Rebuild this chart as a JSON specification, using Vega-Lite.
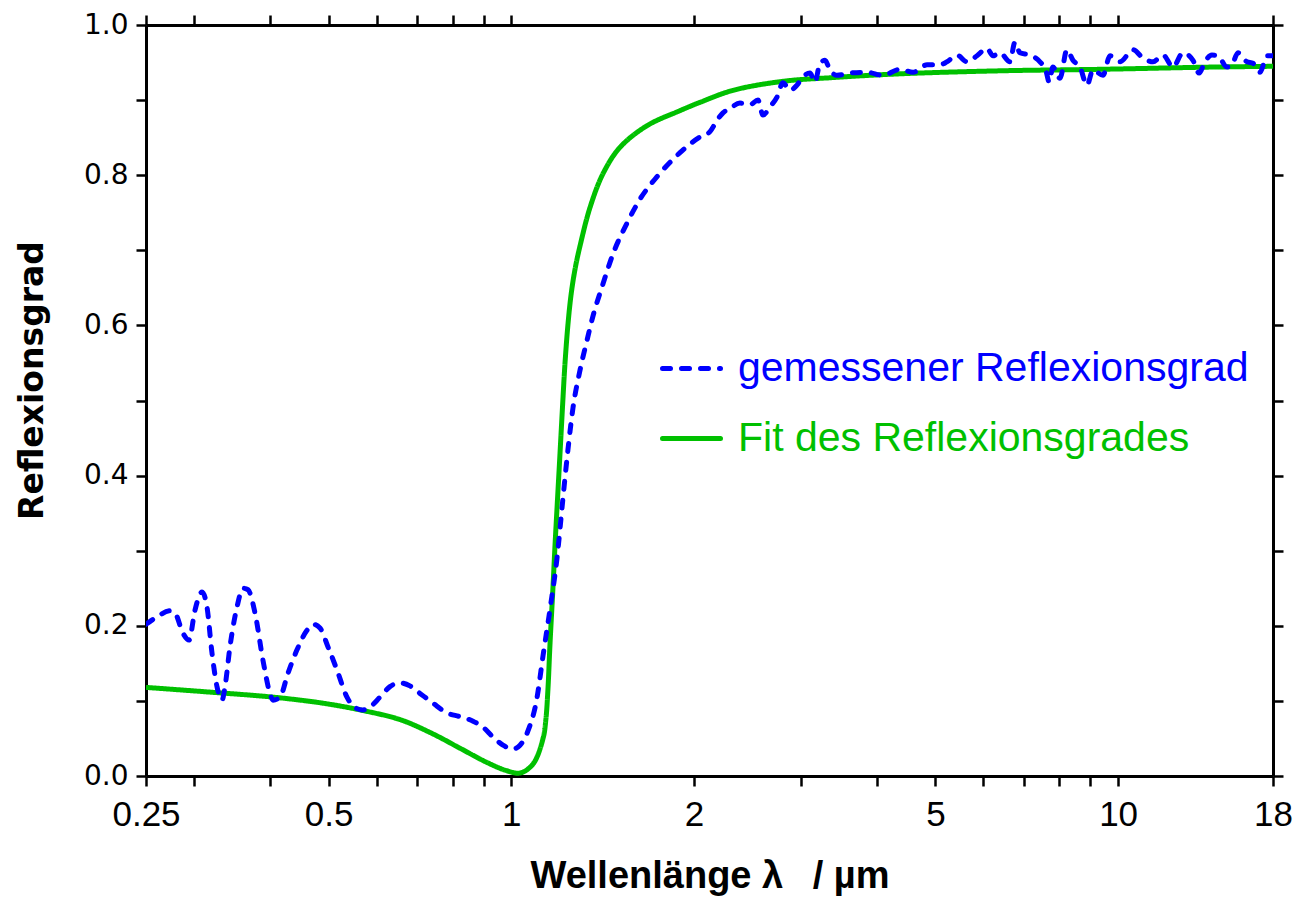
{
  "$schema": "https://vega.github.io/schema/vega-lite/v6.json",
  "width": 1127,
  "height": 751,
  "autosize": {"type": "none"},
  "padding": {"left": 146, "top": 25, "right": 23, "bottom": 125},
  "background": "white",
  "config": {
    "view": {"stroke": null},
    "axis": {
      "grid": false,
      "domainColor": "black",
      "domainWidth": 3,
      "tickColor": "black",
      "tickWidth": 2.5,
      "tickSize": 10,
      "labelColor": "black",
      "titleColor": "black"
    },
    "legend": {"padding": 0}
  },
  "datasets": {
    "fit": [
      {"series": "Fit des Reflexionsgrades", "wl": 0.25, "R": 0.118},
      {"series": "Fit des Reflexionsgrades", "wl": 0.315, "R": 0.112},
      {"series": "Fit des Reflexionsgrades", "wl": 0.405, "R": 0.105},
      {"series": "Fit des Reflexionsgrades", "wl": 0.489, "R": 0.097},
      {"series": "Fit des Reflexionsgrades", "wl": 0.563, "R": 0.088},
      {"series": "Fit des Reflexionsgrades", "wl": 0.656, "R": 0.075},
      {"series": "Fit des Reflexionsgrades", "wl": 0.743, "R": 0.056},
      {"series": "Fit des Reflexionsgrades", "wl": 0.823, "R": 0.037},
      {"series": "Fit des Reflexionsgrades", "wl": 0.912, "R": 0.018},
      {"series": "Fit des Reflexionsgrades", "wl": 0.983, "R": 0.007},
      {"series": "Fit des Reflexionsgrades", "wl": 1.034, "R": 0.004},
      {"series": "Fit des Reflexionsgrades", "wl": 1.086, "R": 0.016},
      {"series": "Fit des Reflexionsgrades", "wl": 1.128, "R": 0.05},
      {"series": "Fit des Reflexionsgrades", "wl": 1.14, "R": 0.075},
      {"series": "Fit des Reflexionsgrades", "wl": 1.149, "R": 0.115},
      {"series": "Fit des Reflexionsgrades", "wl": 1.158, "R": 0.175},
      {"series": "Fit des Reflexionsgrades", "wl": 1.171, "R": 0.25},
      {"series": "Fit des Reflexionsgrades", "wl": 1.18, "R": 0.305},
      {"series": "Fit des Reflexionsgrades", "wl": 1.19, "R": 0.36},
      {"series": "Fit des Reflexionsgrades", "wl": 1.203, "R": 0.43},
      {"series": "Fit des Reflexionsgrades", "wl": 1.216, "R": 0.5},
      {"series": "Fit des Reflexionsgrades", "wl": 1.226, "R": 0.55},
      {"series": "Fit des Reflexionsgrades", "wl": 1.24, "R": 0.602},
      {"series": "Fit des Reflexionsgrades", "wl": 1.255, "R": 0.642},
      {"series": "Fit des Reflexionsgrades", "wl": 1.275, "R": 0.677},
      {"series": "Fit des Reflexionsgrades", "wl": 1.298, "R": 0.706},
      {"series": "Fit des Reflexionsgrades", "wl": 1.348, "R": 0.757},
      {"series": "Fit des Reflexionsgrades", "wl": 1.416, "R": 0.802},
      {"series": "Fit des Reflexionsgrades", "wl": 1.51, "R": 0.837},
      {"series": "Fit des Reflexionsgrades", "wl": 1.674, "R": 0.866},
      {"series": "Fit des Reflexionsgrades", "wl": 1.897, "R": 0.886},
      {"series": "Fit des Reflexionsgrades", "wl": 2.046, "R": 0.897},
      {"series": "Fit des Reflexionsgrades", "wl": 2.319, "R": 0.913},
      {"series": "Fit des Reflexionsgrades", "wl": 2.803, "R": 0.925},
      {"series": "Fit des Reflexionsgrades", "wl": 3.39, "R": 0.93},
      {"series": "Fit des Reflexionsgrades", "wl": 4.37, "R": 0.935},
      {"series": "Fit des Reflexionsgrades", "wl": 6.39, "R": 0.939},
      {"series": "Fit des Reflexionsgrades", "wl": 9.34, "R": 0.941},
      {"series": "Fit des Reflexionsgrades", "wl": 14.33, "R": 0.944},
      {"series": "Fit des Reflexionsgrades", "wl": 18.0, "R": 0.945}
    ],
    "meas": [
      {"series": "gemessener Reflexionsgrad", "wl": 0.25, "R": 0.202},
      {"series": "gemessener Reflexionsgrad", "wl": 0.2607, "R": 0.212},
      {"series": "gemessener Reflexionsgrad", "wl": 0.2738, "R": 0.22},
      {"series": "gemessener Reflexionsgrad", "wl": 0.2791, "R": 0.217},
      {"series": "gemessener Reflexionsgrad", "wl": 0.2877, "R": 0.19},
      {"series": "gemessener Reflexionsgrad", "wl": 0.2943, "R": 0.181},
      {"series": "gemessener Reflexionsgrad", "wl": 0.3011, "R": 0.221},
      {"series": "gemessener Reflexionsgrad", "wl": 0.3092, "R": 0.245},
      {"series": "gemessener Reflexionsgrad", "wl": 0.3151, "R": 0.225},
      {"series": "gemessener Reflexionsgrad", "wl": 0.3211, "R": 0.164},
      {"series": "gemessener Reflexionsgrad", "wl": 0.3273, "R": 0.119},
      {"series": "gemessener Reflexionsgrad", "wl": 0.3336, "R": 0.101},
      {"series": "gemessener Reflexionsgrad", "wl": 0.3374, "R": 0.119},
      {"series": "gemessener Reflexionsgrad", "wl": 0.3438, "R": 0.172},
      {"series": "gemessener Reflexionsgrad", "wl": 0.3531, "R": 0.225},
      {"series": "gemessener Reflexionsgrad", "wl": 0.3613, "R": 0.25},
      {"series": "gemessener Reflexionsgrad", "wl": 0.3682, "R": 0.248},
      {"series": "gemessener Reflexionsgrad", "wl": 0.3781, "R": 0.217},
      {"series": "gemessener Reflexionsgrad", "wl": 0.3897, "R": 0.154},
      {"series": "gemessener Reflexionsgrad", "wl": 0.4002, "R": 0.11},
      {"series": "gemessener Reflexionsgrad", "wl": 0.4048, "R": 0.101},
      {"series": "gemessener Reflexionsgrad", "wl": 0.4157, "R": 0.105},
      {"series": "gemessener Reflexionsgrad", "wl": 0.4285, "R": 0.137},
      {"series": "gemessener Reflexionsgrad", "wl": 0.4434, "R": 0.168},
      {"series": "gemessener Reflexionsgrad", "wl": 0.4605, "R": 0.194},
      {"series": "gemessener Reflexionsgrad", "wl": 0.4712, "R": 0.202},
      {"series": "gemessener Reflexionsgrad", "wl": 0.4838, "R": 0.197},
      {"series": "gemessener Reflexionsgrad", "wl": 0.4987, "R": 0.172},
      {"series": "gemessener Reflexionsgrad", "wl": 0.5161, "R": 0.141},
      {"series": "gemessener Reflexionsgrad", "wl": 0.536, "R": 0.105},
      {"series": "gemessener Reflexionsgrad", "wl": 0.5526, "R": 0.091},
      {"series": "gemessener Reflexionsgrad", "wl": 0.5696, "R": 0.088},
      {"series": "gemessener Reflexionsgrad", "wl": 0.5849, "R": 0.092},
      {"series": "gemessener Reflexionsgrad", "wl": 0.6075, "R": 0.105},
      {"series": "gemessener Reflexionsgrad", "wl": 0.6309, "R": 0.119},
      {"series": "gemessener Reflexionsgrad", "wl": 0.6553, "R": 0.124},
      {"series": "gemessener Reflexionsgrad", "wl": 0.6807, "R": 0.12},
      {"series": "gemessener Reflexionsgrad", "wl": 0.707, "R": 0.11},
      {"series": "gemessener Reflexionsgrad", "wl": 0.7429, "R": 0.097},
      {"series": "gemessener Reflexionsgrad", "wl": 0.7834, "R": 0.084},
      {"series": "gemessener Reflexionsgrad", "wl": 0.8231, "R": 0.079},
      {"series": "gemessener Reflexionsgrad", "wl": 0.8648, "R": 0.073},
      {"series": "gemessener Reflexionsgrad", "wl": 0.8982, "R": 0.065},
      {"series": "gemessener Reflexionsgrad", "wl": 0.9329, "R": 0.052},
      {"series": "gemessener Reflexionsgrad", "wl": 0.9689, "R": 0.041},
      {"series": "gemessener Reflexionsgrad", "wl": 1.0063, "R": 0.036},
      {"series": "gemessener Reflexionsgrad", "wl": 1.0335, "R": 0.041},
      {"series": "gemessener Reflexionsgrad", "wl": 1.0652, "R": 0.06},
      {"series": "gemessener Reflexionsgrad", "wl": 1.1023, "R": 0.104},
      {"series": "gemessener Reflexionsgrad", "wl": 1.1278, "R": 0.16},
      {"series": "gemessener Reflexionsgrad", "wl": 1.1581, "R": 0.222},
      {"series": "gemessener Reflexionsgrad", "wl": 1.1893, "R": 0.29},
      {"series": "gemessener Reflexionsgrad", "wl": 1.2165, "R": 0.37},
      {"series": "gemessener Reflexionsgrad", "wl": 1.2399, "R": 0.435},
      {"series": "gemessener Reflexionsgrad", "wl": 1.2636, "R": 0.49},
      {"series": "gemessener Reflexionsgrad", "wl": 1.2975, "R": 0.54},
      {"series": "gemessener Reflexionsgrad", "wl": 1.3325, "R": 0.58},
      {"series": "gemessener Reflexionsgrad", "wl": 1.3629, "R": 0.612},
      {"series": "gemessener Reflexionsgrad", "wl": 1.4157, "R": 0.655},
      {"series": "gemessener Reflexionsgrad", "wl": 1.4706, "R": 0.695},
      {"series": "gemessener Reflexionsgrad", "wl": 1.5509, "R": 0.736},
      {"series": "gemessener Reflexionsgrad", "wl": 1.6293, "R": 0.768},
      {"series": "gemessener Reflexionsgrad", "wl": 1.7384, "R": 0.798},
      {"series": "gemessener Reflexionsgrad", "wl": 1.8965, "R": 0.83},
      {"series": "gemessener Reflexionsgrad", "wl": 2.0462, "R": 0.851},
      {"series": "gemessener Reflexionsgrad", "wl": 2.1253, "R": 0.858},
      {"series": "gemessener Reflexionsgrad", "wl": 2.1824, "R": 0.873},
      {"series": "gemessener Reflexionsgrad", "wl": 2.2328, "R": 0.883},
      {"series": "gemessener Reflexionsgrad", "wl": 2.2931, "R": 0.889},
      {"series": "gemessener Reflexionsgrad", "wl": 2.3813, "R": 0.896},
      {"series": "gemessener Reflexionsgrad", "wl": 2.4737, "R": 0.894},
      {"series": "gemessener Reflexionsgrad", "wl": 2.55, "R": 0.9},
      {"series": "gemessener Reflexionsgrad", "wl": 2.5988, "R": 0.88},
      {"series": "gemessener Reflexionsgrad", "wl": 2.6684, "R": 0.891},
      {"series": "gemessener Reflexionsgrad", "wl": 2.7405, "R": 0.904},
      {"series": "gemessener Reflexionsgrad", "wl": 2.8037, "R": 0.923},
      {"series": "gemessener Reflexionsgrad", "wl": 2.8789, "R": 0.913},
      {"series": "gemessener Reflexionsgrad", "wl": 2.9564, "R": 0.92},
      {"series": "gemessener Reflexionsgrad", "wl": 3.024, "R": 0.931},
      {"series": "gemessener Reflexionsgrad", "wl": 3.1057, "R": 0.936},
      {"series": "gemessener Reflexionsgrad", "wl": 3.1652, "R": 0.924},
      {"series": "gemessener Reflexionsgrad", "wl": 3.226, "R": 0.949},
      {"series": "gemessener Reflexionsgrad", "wl": 3.2879, "R": 0.953},
      {"series": "gemessener Reflexionsgrad", "wl": 3.3509, "R": 0.94},
      {"series": "gemessener Reflexionsgrad", "wl": 3.4413, "R": 0.933},
      {"series": "gemessener Reflexionsgrad", "wl": 3.6154, "R": 0.936},
      {"series": "gemessener Reflexionsgrad", "wl": 3.8563, "R": 0.937},
      {"series": "gemessener Reflexionsgrad", "wl": 4.098, "R": 0.933},
      {"series": "gemessener Reflexionsgrad", "wl": 4.37, "R": 0.941},
      {"series": "gemessener Reflexionsgrad", "wl": 4.5912, "R": 0.937},
      {"series": "gemessener Reflexionsgrad", "wl": 4.8425, "R": 0.947},
      {"series": "gemessener Reflexionsgrad", "wl": 5.0873, "R": 0.947},
      {"series": "gemessener Reflexionsgrad", "wl": 5.2233, "R": 0.951},
      {"series": "gemessener Reflexionsgrad", "wl": 5.4255, "R": 0.96},
      {"series": "gemessener Reflexionsgrad", "wl": 5.6358, "R": 0.951},
      {"series": "gemessener Reflexionsgrad", "wl": 5.8538, "R": 0.959},
      {"series": "gemessener Reflexionsgrad", "wl": 6.0795, "R": 0.969},
      {"series": "gemessener Reflexionsgrad", "wl": 6.2198, "R": 0.959},
      {"series": "gemessener Reflexionsgrad", "wl": 6.3873, "R": 0.963},
      {"series": "gemessener Reflexionsgrad", "wl": 6.6333, "R": 0.951},
      {"series": "gemessener Reflexionsgrad", "wl": 6.7603, "R": 0.977},
      {"series": "gemessener Reflexionsgrad", "wl": 6.8895, "R": 0.963},
      {"series": "gemessener Reflexionsgrad", "wl": 7.1563, "R": 0.96},
      {"series": "gemessener Reflexionsgrad", "wl": 7.4335, "R": 0.951},
      {"series": "gemessener Reflexionsgrad", "wl": 7.6, "R": 0.94},
      {"series": "gemessener Reflexionsgrad", "wl": 7.7, "R": 0.924},
      {"series": "gemessener Reflexionsgrad", "wl": 7.8088, "R": 0.944},
      {"series": "gemessener Reflexionsgrad", "wl": 8.0198, "R": 0.929},
      {"series": "gemessener Reflexionsgrad", "wl": 8.2355, "R": 0.967},
      {"series": "gemessener Reflexionsgrad", "wl": 8.4258, "R": 0.953},
      {"series": "gemessener Reflexionsgrad", "wl": 8.6523, "R": 0.944},
      {"series": "gemessener Reflexionsgrad", "wl": 8.8858, "R": 0.92},
      {"series": "gemessener Reflexionsgrad", "wl": 9.0913, "R": 0.94},
      {"series": "gemessener Reflexionsgrad", "wl": 9.4428, "R": 0.933},
      {"series": "gemessener Reflexionsgrad", "wl": 9.6975, "R": 0.959},
      {"series": "gemessener Reflexionsgrad", "wl": 10.073, "R": 0.951},
      {"series": "gemessener Reflexionsgrad", "wl": 10.582, "R": 0.967},
      {"series": "gemessener Reflexionsgrad", "wl": 10.992, "R": 0.956},
      {"series": "gemessener Reflexionsgrad", "wl": 11.416, "R": 0.951},
      {"series": "gemessener Reflexionsgrad", "wl": 11.858, "R": 0.96},
      {"series": "gemessener Reflexionsgrad", "wl": 12.317, "R": 0.944},
      {"series": "gemessener Reflexionsgrad", "wl": 12.792, "R": 0.963},
      {"series": "gemessener Reflexionsgrad", "wl": 13.285, "R": 0.953},
      {"series": "gemessener Reflexionsgrad", "wl": 13.6, "R": 0.936},
      {"series": "gemessener Reflexionsgrad", "wl": 13.9, "R": 0.951},
      {"series": "gemessener Reflexionsgrad", "wl": 14.278, "R": 0.96},
      {"series": "gemessener Reflexionsgrad", "wl": 14.606, "R": 0.959},
      {"series": "gemessener Reflexionsgrad", "wl": 15.116, "R": 0.944},
      {"series": "gemessener Reflexionsgrad", "wl": 15.405, "R": 0.947},
      {"series": "gemessener Reflexionsgrad", "wl": 15.76, "R": 0.963},
      {"series": "gemessener Reflexionsgrad", "wl": 16.307, "R": 0.951},
      {"series": "gemessener Reflexionsgrad", "wl": 16.682, "R": 0.949},
      {"series": "gemessener Reflexionsgrad", "wl": 17.13, "R": 0.937},
      {"series": "gemessener Reflexionsgrad", "wl": 17.592, "R": 0.959},
      {"series": "gemessener Reflexionsgrad", "wl": 18.0, "R": 0.959}
    ]
  },
  "layer": [
    {
      "data": {"name": "fit"},
      "mark": {"type": "line", "strokeWidth": 5, "interpolate": "catmull-rom", "clip": true},
      "encoding": {
        "x": {
          "field": "wl", "type": "quantitative",
          "scale": {"type": "log", "domain": [0.25, 18], "nice": false},
          "axis": {
            "orient": "bottom",
            "values": [0.25, 0.3, 0.4, 0.5, 0.6, 0.7, 0.8, 0.9, 1, 2, 3, 4, 5, 6, 7, 8, 9, 10, 18],
            "labelExpr": "indexof([0.25, 0.5, 1, 2, 5, 10, 18], datum.value) >= 0 ? '' + datum.value : ''",
            "labelFont": "Liberation Sans", "labelFontSize": 35, "labelPadding": 11,
            "labelOverlap": false, "labelFlush": false,
            "title": "Wellenlänge λ\u2002 / µm",
            "titleFont": "Liberation Sans", "titleFontSize": 38, "titleFontWeight": "bold",
            "titlePadding": 25
          }
        },
        "y": {
          "field": "R", "type": "quantitative",
          "scale": {"domain": [0, 1], "nice": false},
          "axis": {
            "orient": "left",
            "values": [0, 0.1, 0.2, 0.3, 0.4, 0.5, 0.6, 0.7, 0.8, 0.9, 1.0],
            "labelExpr": "round(datum.value * 10) % 2 == 0 ? format(datum.value, '.1f') : ''",
            "labelFont": "DejaVu Sans", "labelFontSize": 28, "labelPadding": 8,
            "labelOverlap": false, "labelFlush": false,
            "title": "Reflexionsgrad",
            "titleFont": "DejaVu Sans", "titleFontSize": 33, "titleFontWeight": "bold",
            "titlePadding": 34, "titleY": 355
          }
        },
        "color": {
          "field": "series", "type": "nominal",
          "scale": {"domain": ["gemessener Reflexionsgrad", "Fit des Reflexionsgrades"], "range": ["#0000ff", "#00c000"]},
          "legend": {
            "title": null, "orient": "none", "legendX": 514, "legendY": 312,
            "symbolType": "stroke", "symbolSize": 3364, "symbolStrokeWidth": 5,
            "labelFont": "Liberation Sans", "labelFontSize": 41, "labelOffset": 15,
            "rowPadding": 18, "labelLimit": 800,
            "encode": {
              "labels": {"update": {"fill": {"signal": "datum.value == 'Fit des Reflexionsgrades' ? '#00c000' : '#0000ff'"}}},
              "symbols": {"update": {"strokeCap": {"value": "round"}}}
            }
          }
        },
        "strokeDash": {
          "field": "series", "type": "nominal",
          "scale": {"domain": ["gemessener Reflexionsgrad", "Fit des Reflexionsgrades"], "range": [[8, 11], [1, 0]]},
          "legend": {
            "title": null, "orient": "none", "legendX": 514, "legendY": 312,
            "symbolType": "stroke", "symbolSize": 3364, "symbolStrokeWidth": 5,
            "labelFont": "Liberation Sans", "labelFontSize": 41, "labelOffset": 15,
            "rowPadding": 18, "labelLimit": 800,
            "encode": {
              "labels": {"update": {"fill": {"signal": "datum.value == 'Fit des Reflexionsgrades' ? '#00c000' : '#0000ff'"}}},
              "symbols": {"update": {"strokeCap": {"value": "round"}}}
            }
          }
        }
      }
    },
    {
      "data": {"name": "meas"},
      "mark": {"type": "line", "strokeWidth": 5, "strokeCap": "round", "interpolate": "monotone", "clip": true},
      "encoding": {
        "x": {
          "field": "wl", "type": "quantitative",
          "axis": {
            "orient": "top",
            "values": [0.25, 0.3, 0.4, 0.5, 0.6, 0.7, 0.8, 0.9, 1, 2, 3, 4, 5, 6, 7, 8, 9, 10, 18],
            "labels": false, "title": null
          }
        },
        "y": {
          "field": "R", "type": "quantitative",
          "axis": {
            "orient": "right",
            "values": [0, 0.1, 0.2, 0.3, 0.4, 0.5, 0.6, 0.7, 0.8, 0.9, 1.0],
            "labels": false, "title": null
          }
        },
        "color": {"field": "series", "type": "nominal"},
        "strokeDash": {"field": "series", "type": "nominal"}
      }
    }
  ],
  "resolve": {"axis": {"x": "independent", "y": "independent"}}
}
